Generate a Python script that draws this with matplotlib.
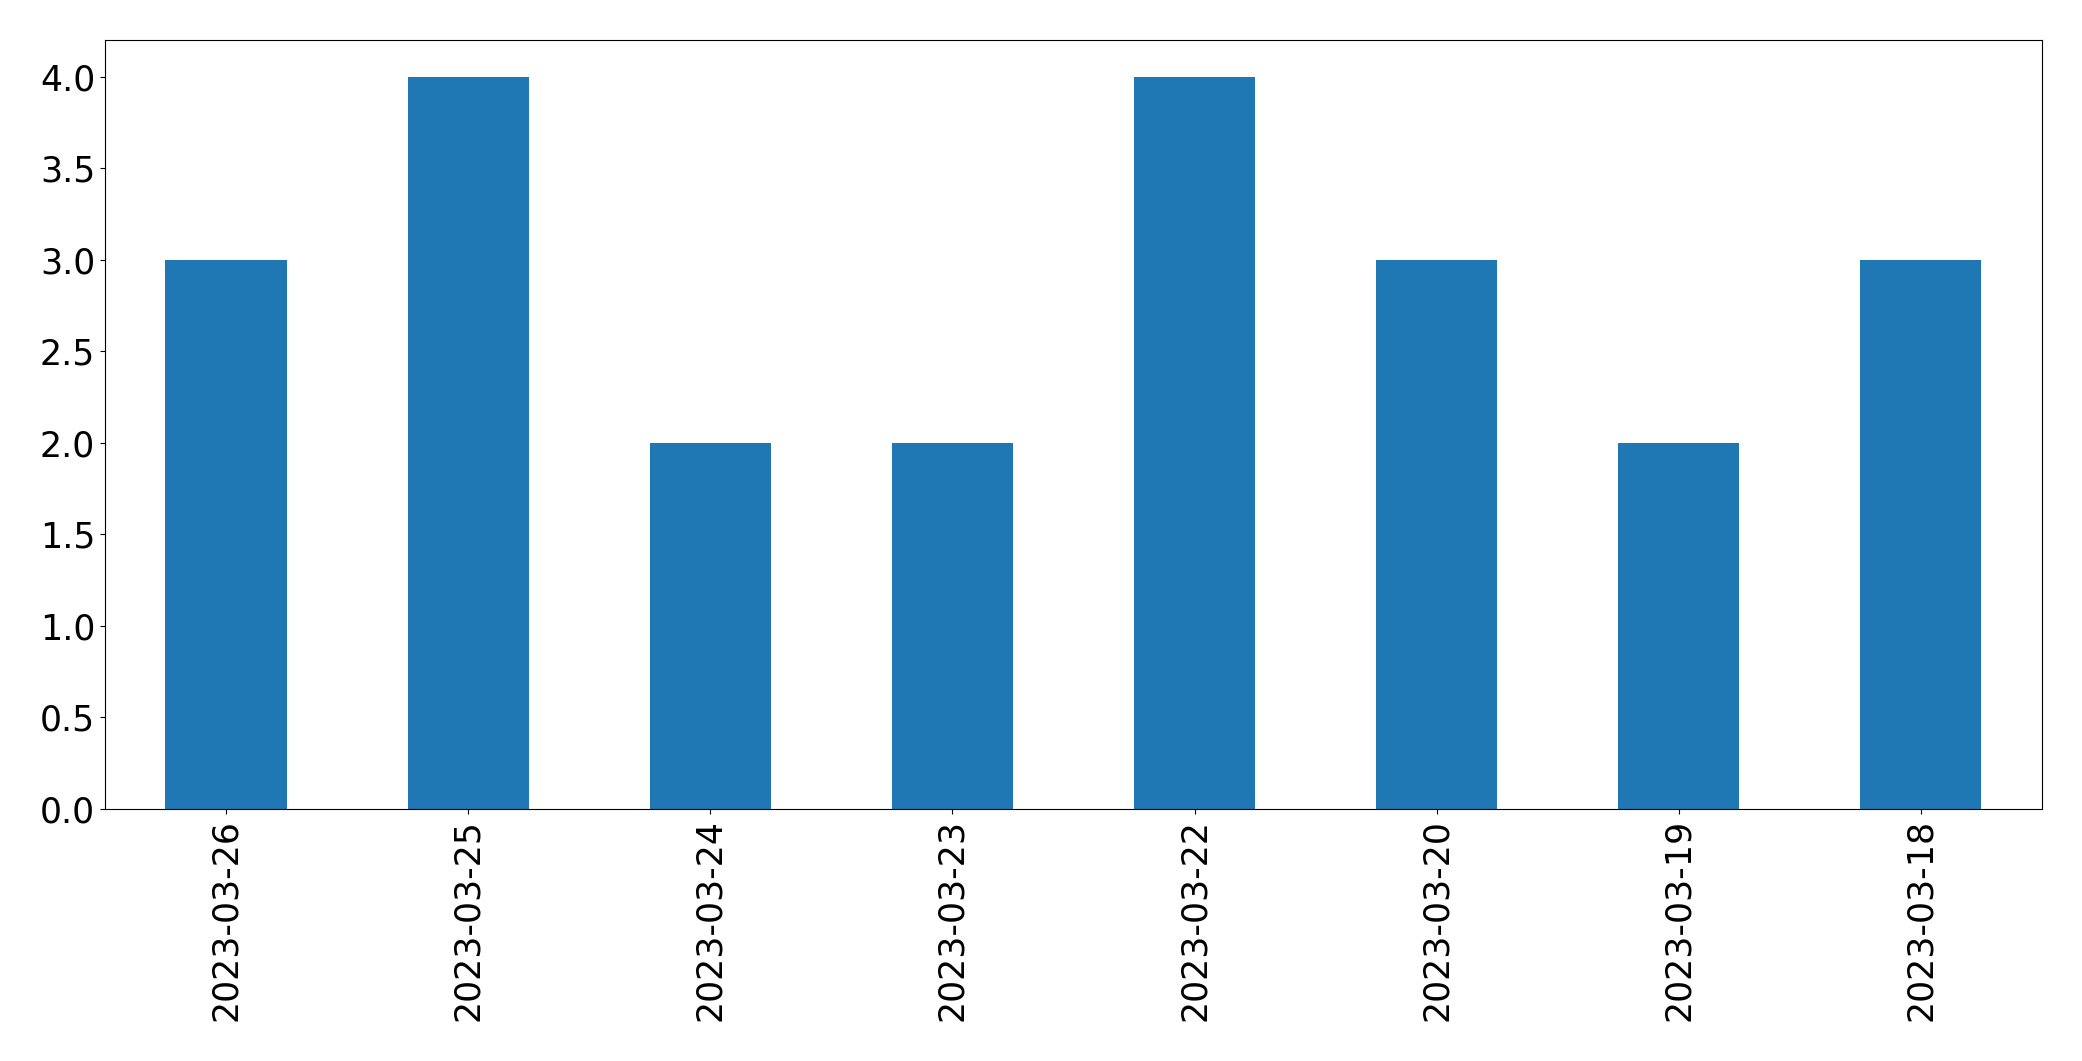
import matplotlib
matplotlib.use('Agg')
import matplotlib.pyplot as plt
import pandas as pd

# 日付ごとの件数
dates = ['2023-03-26', '2023-03-25', '2023-03-24', '2023-03-23',
         '2023-03-22', '2023-03-20', '2023-03-19', '2023-03-18']
counts = [3, 4, 2, 2, 4, 3, 2, 3]

s = pd.Series(counts, index=dates)

plt.rcParams['font.size'] = 25
fig = plt.figure(figsize=(20.82, 10.61), dpi=100)
ax = fig.add_axes([0.0504, 0.2375, 0.9304, 0.7248])
s.plot(kind='bar', ax=ax, color='#1f77b4')
ax.tick_params(labelsize=25)

fig.savefig('out.png', dpi=100)
